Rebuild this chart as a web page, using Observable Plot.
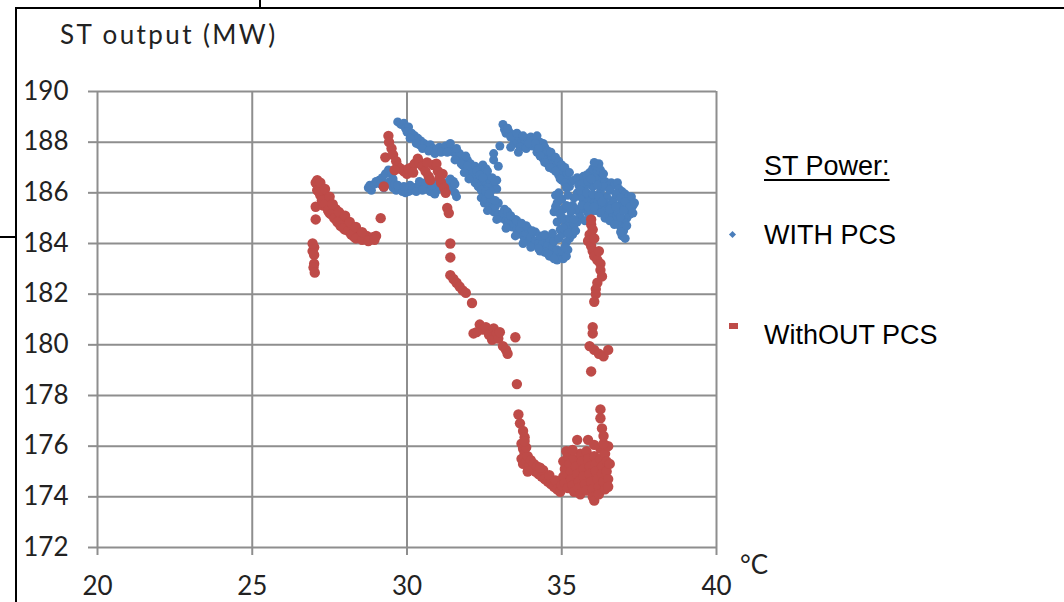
<!DOCTYPE html>
<html>
<head>
<meta charset="utf-8">
<script src="https://cdn.jsdelivr.net/npm/d3@7"></script>
<script src="https://cdn.jsdelivr.net/npm/@observablehq/plot@0.6"></script>
<style>
  html, body { margin: 0; padding: 0; background: #fff; }
  #wrap { position: relative; width: 1064px; height: 602px; overflow: hidden; background: #fff; }
  #chart { position: absolute; left: 0; top: 0; }
  #chart svg g[aria-label="dot"] { filter: blur(0.6px); }
  .line { position: absolute; background: #000; }
  .txt { position: absolute; white-space: nowrap; line-height: 1; }
  .axt { font-family: Lato, "Open Sans", sans-serif; font-size: 26px; color: #222; }
  .leg { font-family: "Liberation Sans", Arial, sans-serif; font-size: 27px; color: #000; }
</style>
</head>
<body>
<div id="wrap">
  <div id="chart"></div>
  <div class="line" style="left:16px;top:7px;width:1048px;height:2px"></div>
  <div class="line" style="left:259px;top:0;width:2px;height:8px"></div>
  <div class="line" style="left:15px;top:7px;width:2px;height:595px"></div>
  <div class="line" style="left:0;top:236px;width:16px;height:2px"></div>
  <div class="txt axt" id="ytitle" style="left:60px;top:21px;letter-spacing:2.4px"></div>
  <div class="txt axt" id="xunit" style="left:740px;top:551px"></div>
  <div class="txt leg" id="legTitle" style="left:764px;top:153px;text-decoration:underline;text-underline-offset:4px"></div>
  <div id="legend"></div>
</div>
<script>
// ---- data ----
const seriesNames = ["WITH PCS", "WithOUT PCS"];
const seriesColors = ["#4A7EBB", "#BE4B48"];
const xTicks = [20, 25, 30, 35, 40];
const yTicks = [172, 174, 176, 178, 180, 182, 184, 186, 188, 190];
const yTitle = "ST output (MW)";
const xUnit = "°C";
const legendTitle = "ST Power:";

// WITH PCS: [temperature °C, ST output MW]
const withPcs = [
  [29.70,188.80],[29.80,188.70],[29.90,188.75],[29.95,188.55],[30.05,188.60],[30.00,188.40],[30.15,188.35],[30.25,188.25],
  [30.35,188.15],[30.45,188.05],[30.40,187.90],[30.55,187.95],[30.65,187.85],[30.75,187.90],[30.85,187.75],[30.95,187.70],
  [31.05,187.80],[31.15,187.75],[31.25,187.85],[31.35,187.80],[31.45,187.75],[31.50,187.60],[31.60,187.50],[31.65,187.35],
  [31.75,187.40],[31.85,187.25],[31.95,187.30],[32.05,187.15],[32.10,187.00],[32.20,187.05],[32.30,186.90],[32.40,186.95],
  [32.50,186.80],[32.55,186.65],[32.60,186.50],[32.70,186.40],[32.80,186.30],[32.90,186.15],[32.15,186.75],[32.25,186.60],
  [32.35,186.45],[32.45,186.30],[32.00,186.85],[31.90,187.00],[31.80,187.10],[32.60,186.20],[32.70,186.05],[32.50,186.10],
  [31.70,187.55],[32.90,186.50],[32.80,187.30],[32.95,187.05],[33.00,187.85],[32.80,187.55],[32.45,187.10],[32.55,186.95],
  [30.10,188.15],[30.30,187.95],[30.50,187.75],[30.70,187.65],[30.90,187.55],[31.10,187.60],[31.30,187.60],[31.55,187.30],
  [31.75,187.15],[31.95,187.05],[32.10,186.60],[32.20,186.40],[32.30,186.25],[32.40,186.10],[32.00,186.55],[31.85,186.80],
  [32.25,186.85],[32.35,186.70],[31.60,187.75],[31.40,187.95],[31.90,187.45],[32.60,186.85],[32.75,186.60],[32.85,186.45],
  [28.75,186.20],[28.85,186.10],[28.80,186.30],[28.95,186.35],[29.10,186.50],[29.20,186.60],[29.30,186.75],[29.40,186.90],
  [29.50,186.75],[29.45,186.45],[29.55,186.20],[29.65,186.10],[29.75,186.15],[29.85,186.05],[29.95,186.00],[30.05,186.05],
  [30.15,186.10],[30.25,186.20],[30.35,186.25],[30.45,186.35],[30.55,186.25],[30.65,186.15],[30.75,186.05],[30.85,186.00],
  [30.95,186.10],[31.05,186.20],[31.15,186.30],[31.25,186.40],[31.35,186.35],[31.45,186.20],[31.55,186.00],[31.60,185.85],
  [29.35,186.35],[29.25,186.20],[30.40,186.45],[31.50,186.45],
  [29.00,186.45],[29.15,186.35],[29.55,186.55],[29.60,186.35],[29.70,186.30],[30.10,186.30],[30.60,186.40],[30.80,186.30],
  [31.00,186.40],[31.40,186.55],[31.30,186.15],[29.90,186.25],[30.30,186.05],[30.50,186.10],[30.90,185.95],[31.55,186.35],
  [32.40,185.80],[32.50,185.60],[32.55,185.75],[32.65,185.50],[32.75,185.40],[32.80,185.25],[32.85,185.45],[32.95,185.15],
  [33.05,185.00],[33.10,185.20],[33.20,184.90],[33.25,184.75],[33.30,184.95],[33.40,184.65],[33.45,184.80],[33.55,184.55],
  [33.60,184.40],[33.65,184.60],[33.75,184.30],[33.80,184.15],[33.85,184.40],[33.95,184.10],[34.00,184.25],[34.10,183.95],
  [34.15,184.10],[34.25,184.00],[34.35,183.90],[34.40,184.05],[34.50,183.80],[34.55,183.95],[34.65,183.70],[34.70,183.85],
  [34.80,183.55],[34.85,183.75],[34.95,183.45],[35.05,183.40],[35.10,183.60],[34.60,184.20],[34.30,184.30],[33.90,184.60],
  [33.50,184.95],[33.15,185.35],[32.70,185.80],[34.75,184.10],[34.45,183.65],[35.00,183.70],[32.45,186.60],[32.55,186.05],
  [32.60,185.30],[32.90,184.95],[33.20,184.60],[33.50,184.30],[33.75,184.00],[34.00,183.85],[34.30,183.70],[34.60,183.50],
  [34.85,183.35],[32.95,185.60],[33.25,185.25],[33.55,184.90],[33.85,184.70],[34.15,184.45],[34.45,184.35],[34.70,184.40],
  [34.90,184.20],[33.35,185.10],[33.70,184.80],[34.05,184.50],[32.65,185.95],[32.85,185.70],[34.25,183.80],[34.55,183.60],
  [34.75,183.40],[35.15,183.50],[35.20,183.75],
  [33.10,188.70],[33.15,188.50],[33.20,188.35],[33.30,188.40],[33.40,188.30],[33.50,188.15],[33.60,188.20],[33.70,188.00],
  [33.80,188.05],[33.90,188.15],[34.00,188.20],[34.10,188.10],[34.20,188.25],[34.30,188.00],[34.40,187.95],[34.45,187.80],
  [34.35,187.70],[34.50,187.55],[34.60,187.45],[34.65,187.30],[34.75,187.20],[34.85,187.10],[34.95,186.95],[35.05,186.85],
  [35.15,186.70],[35.20,186.55],[35.30,186.45],[33.45,187.95],[33.65,187.80],[33.85,187.75],[34.05,187.85],[34.20,187.60],
  [34.40,187.35],[34.55,187.15],[34.70,186.95],[34.90,186.70],[35.00,186.50],
  [33.25,188.55],[33.35,188.20],[33.55,188.35],[33.75,188.25],[33.95,187.95],[34.15,187.95],[34.25,187.75],[34.30,187.45],
  [34.45,187.20],[34.60,187.00],[34.80,186.85],[34.95,186.55],[35.10,186.40],[35.25,186.25],[34.55,187.65],[34.65,187.60],
  [34.80,187.40],[34.90,187.25],[35.00,187.10],[35.10,187.00],[35.25,186.80],[33.35,187.80],[33.60,187.60],
  [35.40,186.50],[35.50,186.60],[35.60,186.55],[35.70,186.65],[35.80,186.70],[35.90,186.80],[36.00,186.95],[36.10,187.05],
  [36.15,186.85],[36.20,186.70],[36.25,186.90],[36.30,186.55],[36.40,186.45],[36.50,186.35],[36.60,186.40],[36.70,186.30],
  [36.80,186.40],[36.85,186.15],[36.95,186.05],[37.05,185.95],[37.15,185.85],[37.25,185.70],[37.30,185.50],[37.25,185.30],
  [37.20,185.15],[37.10,185.00],[37.00,184.85],[37.00,184.50],[36.95,184.30],[36.90,184.65],[36.80,184.85],[36.70,185.05],
  [36.60,185.20],[36.50,185.10],[36.40,185.25],[36.30,185.40],[36.20,185.55],[36.10,185.65],[36.00,185.60],[35.90,185.70],
  [35.80,185.75],[35.70,185.65],[35.60,185.85],[35.50,186.00],[35.40,185.80],[35.35,185.50],[35.45,185.35],[35.55,185.25],
  [35.70,185.35],[35.85,185.20],[35.95,185.25],[36.10,185.30],[36.25,185.20],[36.40,185.00],[36.55,184.90],[36.70,184.75],
  [36.85,185.50],[36.95,185.70],[37.10,185.40],[36.65,185.70],[36.45,185.85],[36.25,186.05],[36.00,186.25],[35.75,186.25],
  [35.55,186.30],[37.15,185.60],[36.20,187.15],[36.10,186.55],
  [35.65,186.35],[35.85,186.45],[36.05,186.60],[36.35,186.25],[36.55,186.10],[36.75,185.95],[36.90,185.80],[37.05,185.65],
  [37.20,185.45],[35.60,186.10],[35.80,186.00],[36.00,185.95],[36.20,185.85],[36.40,185.60],[36.60,185.50],[36.80,185.25],
  [36.90,185.05],[35.65,185.50],[35.85,185.45],[36.05,185.45],[36.30,185.65],[36.55,185.35],[36.75,185.45],[37.00,185.30],
  [37.10,184.70],[37.05,184.20],[36.90,184.45],[35.60,185.05],[35.75,184.90],[35.50,184.85],[36.15,186.30],[36.35,186.75],
  [36.05,187.20],[35.95,186.55],[37.25,185.85],[37.35,185.60],[37.30,185.20],
  [34.85,185.60],[34.90,185.30],[34.75,185.25],[34.85,184.85],[35.00,185.05],[35.10,184.90],[35.20,184.70],[35.30,184.55],
  [35.35,184.35],[35.25,184.20],[35.15,184.05],[35.10,183.85],[35.00,184.35],[34.95,184.55],[35.40,184.75],[35.05,185.35],
  [34.90,186.00],[35.00,185.75],[35.15,186.20],
  [34.80,185.45],[34.95,185.15],[35.05,184.60],[35.20,184.40],[35.25,185.00],[35.15,185.50],[34.80,185.90],[35.20,185.90],
  [35.30,185.25],[35.40,184.95],[35.45,184.50]
];

// WithOUT PCS: [temperature °C, ST output MW]
const withoutPcs = [
  [26.95,183.70],[27.00,183.85],[26.95,184.00],[27.00,183.55],[27.00,183.20],[26.98,183.05],[27.02,182.85],[27.05,184.95],[27.05,185.45],
  [27.05,186.40],[27.10,186.50],[27.15,186.30],[27.20,186.20],[27.10,186.10],[27.20,185.90],[27.30,186.00],[27.30,185.80],
  [27.40,185.70],[27.45,185.50],[27.50,185.60],[27.55,185.40],[27.60,185.30],[27.65,185.20],[27.70,185.35],[27.75,185.10],
  [27.80,185.00],[27.85,185.15],[27.90,184.90],[27.95,184.80],[28.00,184.90],[28.05,184.70],[28.10,184.75],[28.15,184.60],
  [28.20,184.50],[28.25,184.65],[28.30,184.40],[28.40,184.45],[28.45,184.30],[28.50,184.35],[28.60,184.20],[28.70,184.30],
  [28.80,184.20],[28.90,184.25],[29.00,184.30],[27.30,185.50],[27.50,185.20],[27.70,184.95],[28.00,184.55],[28.30,184.25],
  [27.15,186.05],[27.25,185.70],[27.35,185.55],[27.45,185.30],[27.55,185.15],[27.65,185.00],[27.75,184.85],[27.85,184.70],
  [27.95,184.60],[28.10,184.50],[28.20,184.35],[28.35,184.20],[28.55,184.15],[28.75,184.10],[28.95,184.15],[27.20,186.40],
  [27.35,186.15],[27.50,185.85],[27.60,185.55],[27.80,185.25],[28.00,185.10],[28.15,184.85],[28.35,184.65],[28.55,184.45],
  [29.15,185.00],[29.25,186.25],
  [29.30,187.40],[29.40,188.25],[29.42,188.00],[29.50,187.75],[29.55,187.50],[29.65,187.25],[29.70,187.05],[29.80,186.95],
  [29.90,186.85],[30.00,186.75],[30.05,186.95],[30.15,187.00],[30.25,187.15],[30.35,187.35],[30.40,187.20],[30.50,187.05],
  [30.60,186.85],[30.70,186.65],[30.75,186.50],[30.85,187.10],[30.95,187.15],[31.00,186.85],[31.05,186.60],[31.10,186.40],
  [31.20,186.20],[31.25,186.00],[29.60,186.90],[30.20,186.80],[30.65,187.20],[31.15,186.75],
  [31.30,185.40],[31.35,185.20],[31.40,184.00],[31.40,183.45],[31.40,182.75],[31.50,182.60],[31.60,182.45],[31.70,182.30],
  [31.80,182.15],[31.90,182.05],[32.10,181.65],[32.35,180.80],[32.45,180.60],[32.15,180.45],[32.25,180.50],[32.55,180.70],
  [32.65,180.40],[32.75,180.20],[32.80,180.65],[32.90,180.45],[32.95,180.25],[33.00,180.50],[33.10,179.95],[33.20,179.80],
  [33.25,179.65],[33.50,180.30],[33.55,178.45],[33.60,177.25],[33.65,176.90],[33.75,176.60],[33.80,176.35],
  [33.70,176.10],[33.75,175.90],[33.80,175.70],[33.70,175.50],[33.75,175.30],[33.85,175.40],[33.90,175.60],[33.95,175.20],
  [34.00,175.45],[34.05,175.10],[34.10,175.30],[34.15,175.00],[34.20,175.20],[34.25,174.90],[34.35,174.80],[34.40,175.05],
  [34.45,174.70],[34.55,174.60],[34.60,174.85],[34.65,174.50],[34.75,174.40],[34.80,174.65],[34.85,174.30],[34.95,174.20],
  [35.00,174.45],[33.85,175.95],[33.80,176.20],[34.30,175.15],[33.90,175.00],
  [35.05,175.40],[35.10,175.10],[35.05,174.80],[35.10,174.55],[35.20,174.35],[35.20,175.60],[35.25,175.30],[35.30,175.00],
  [35.30,174.70],[35.35,174.45],[35.40,174.20],[35.40,175.50],[35.45,175.20],[35.50,174.90],[35.55,174.60],[35.55,174.35],
  [35.60,174.10],[35.60,175.70],[35.65,175.40],[35.70,175.10],[35.70,174.80],[35.75,174.50],[35.80,174.25],[35.80,175.80],
  [35.85,175.50],[35.90,175.20],[35.90,174.90],[35.95,174.60],[36.00,174.30],[36.00,174.00],[36.05,173.85],[36.05,175.60],
  [36.10,175.30],[36.10,175.00],[36.15,174.70],[36.20,174.40],[36.20,174.10],[36.25,175.90],[36.25,175.50],[36.30,175.20],
  [36.30,174.90],[36.35,174.60],[36.40,174.30],[36.40,175.70],[36.45,175.40],[36.45,175.00],[36.50,174.70],[36.50,176.00],
  [36.35,176.10],[35.50,176.25],[35.85,176.25],[36.55,175.30],[36.50,174.40],[35.15,175.80],[35.35,175.85],[36.05,176.05],
  [35.95,184.75],[36.00,184.55],[35.90,184.35],[35.85,184.10],[35.95,183.90],[36.00,183.70],[36.05,183.50],[36.15,183.35],
  [36.25,183.20],[36.25,182.95],[36.30,182.70],[36.15,182.45],[36.10,182.20],[36.10,182.00],[36.05,181.70],[36.00,180.70],
  [36.00,180.45],[35.90,179.95],[36.05,179.80],[36.20,179.65],[36.35,179.55],[36.50,179.80],[35.95,178.95],[36.25,177.45],
  [36.25,177.10],[36.30,176.70],[36.35,176.40],[35.95,184.95],[36.05,184.20],[36.20,183.70]
];

// ---- build ----
const rows = [
  ...withPcs.map(([t, p]) => ({series: seriesNames[0], temp: t, power: p})),
  ...withoutPcs.map(([t, p]) => ({series: seriesNames[1], temp: t, power: p}))
];

const gridColor = "#8e8e8e";
const chart = Plot.plot({
  width: 1064,
  height: 602,
  marginLeft: 97,
  marginRight: 348,
  marginTop: 91,
  marginBottom: 55,
  style: {background: "transparent", fontFamily: "Lato, 'Open Sans', sans-serif", overflow: "visible"},
  x: {domain: [20, 40], label: null},
  y: {domain: [172, 190], label: null},
  color: {domain: seriesNames, range: seriesColors},
  marks: [
    Plot.gridX(xTicks, {stroke: gridColor, strokeOpacity: 1, strokeWidth: 2}),
    Plot.gridY(yTicks, {stroke: gridColor, strokeOpacity: 1, strokeWidth: 2}),
    Plot.axisX(xTicks, {tickSize: 8, tickPadding: 21, fontSize: 26, stroke: gridColor, strokeWidth: 2, fill: "#222", label: null}),
    Plot.axisY(yTicks, {tickSize: 9, tickPadding: 20, fontSize: 26, stroke: gridColor, strokeWidth: 2, fill: "#222", label: null}),
    Plot.dot(rows.filter(d => d.series === seriesNames[0]), {x: "temp", y: "power", fill: "series", r: 4.5, stroke: null}),
    Plot.dot(rows.filter(d => d.series === seriesNames[1]), {x: "temp", y: "power", fill: "series", r: 5.2, stroke: null})
  ]
});
document.getElementById("chart").appendChild(chart);

document.getElementById("ytitle").textContent = yTitle;
document.getElementById("xunit").textContent = xUnit;
document.getElementById("legTitle").textContent = legendTitle;

const legend = document.getElementById("legend");
const legendY = [236, 336];
const markerY = [235, 326];
seriesNames.forEach((name, i) => {
  const m = document.createElement("div");
  m.style.position = "absolute";
  m.style.background = seriesColors[i];
  if (i === 0) {
    m.style.left = "730px"; m.style.top = (markerY[i] - 3) + "px";
    m.style.width = "5px"; m.style.height = "5px"; m.style.transform = "rotate(45deg)";
  } else {
    m.style.left = "729px"; m.style.top = (markerY[i] - 3) + "px";
    m.style.width = "9px"; m.style.height = "6px";
  }
  legend.appendChild(m);
  const t = document.createElement("div");
  t.className = "txt leg";
  t.style.left = "764px";
  t.style.top = (legendY[i] - 14) + "px";
  t.textContent = name;
  legend.appendChild(t);
});
</script>
</body>
</html>
